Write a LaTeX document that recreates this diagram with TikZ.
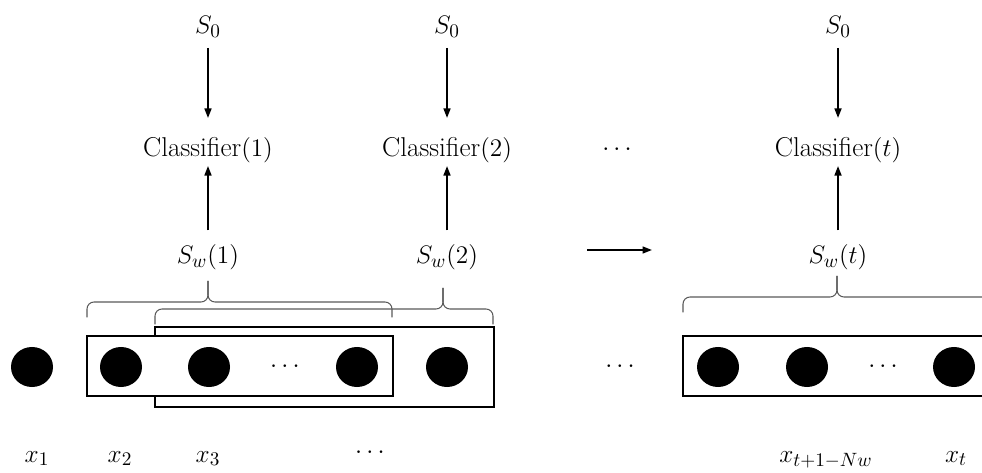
\documentclass[tikz,border=0pt]{standalone}
\usetikzlibrary{arrows.meta,shapes.geometric}
\begin{document}
\begin{tikzpicture}[
  lbl/.style={inner sep=0pt, font=\fontsize{15.5}{18}\selectfont},
  flow/.style={-{Triangle[length=1.9mm,width=1.4mm]}, line width=0.9pt},
  win/.style={draw, line width=0.7pt},
  dot/.style={ellipse, fill=black, minimum width=0.84cm, minimum height=0.80cm, inner sep=0pt},
  brc/.style={draw=black!65, line width=0.6pt, rounded corners=4pt}]
\clip (0,0) rectangle (19.64,9.44);

% classifier columns
\node[lbl] (s0a) at (4.16,8.90) {$S_0$};
\node[lbl] (s0b) at (8.94,8.90) {$S_0$};
\node[lbl] (s0t) at (16.76,8.90) {$S_0$};
\node[lbl] (clsa) at (4.16,6.44) {Classifier$(1)$};
\node[lbl] (clsb) at (8.94,6.44) {Classifier$(2)$};
\node[lbl] (clst) at (16.76,6.44) {Classifier$(t)$};
\node[lbl] (swa) at (4.16,4.30) {$S_w(1)$};
\node[lbl] (swb) at (8.94,4.30) {$S_w(2)$};
\node[lbl] (swt) at (16.76,4.30) {$S_w(t)$};
\node[lbl] (gap1) at (12.34,6.44) {$\cdots$};

\foreach \c in {a,b,t} {
  \draw[flow, shorten <=0.20cm, shorten >=0.38cm] (s0\c) -- (cls\c);
  \draw[flow, shorten <=0.27cm, shorten >=0.06cm] (sw\c) -- (cls\c);
}

% time step arrow
\coordinate (go1) at (11.74,4.44);
\coordinate (go2) at (13.04,4.44);
\draw[flow] (go1) -- (go2);

% windows
\draw[win] (3.10,1.30) rectangle (9.88,2.90);
\draw[win, fill=white] (1.74,1.52) rectangle (7.86,2.72);
\draw[win] (13.66,1.52) rectangle (20.20,2.72);

% braces
\foreach \xa/\xt/\xb/\yh in {1.74/4.16/7.84/3.40, 3.10/8.86/9.86/3.26, 13.66/16.74/20.20/3.50} {
  \draw[brc] (\xa,\yh-0.31) -- (\xa,\yh) -- (\xt,\yh) -- (\xt,\yh+0.42);
  \draw[brc] (\xb,\yh-0.31) -- (\xb,\yh) -- (\xt,\yh) -- (\xt,\yh+0.42);
}

% inputs
\foreach \n/\x in {1/0.64, 2/2.42, 3/4.18, 4/7.14, 5/8.94, 6/14.36, 7/16.14, 8/19.08}
  \node[dot] (d\n) at (\x,2.10) {};
\node[lbl] (gap2) at (5.70,2.10) {$\cdots$};
\node[lbl] (gap3) at (12.40,2.10) {$\cdots$};
\node[lbl] (gap4) at (17.66,2.10) {$\cdots$};

% labels
\node[lbl, anchor=base] (x1) at (0.74,0.20) {$x_1$};
\node[lbl, anchor=base] (x2) at (2.40,0.20) {$x_2$};
\node[lbl, anchor=base] (x3) at (4.16,0.20) {$x_3$};
\node[lbl, anchor=base] (gap5) at (7.40,0.28) {$\cdots$};
\node[lbl, anchor=base] (xw) at (16.52,0.20) {$x_{t+1-Nw}$};
\node[lbl, anchor=base] (xt) at (19.12,0.20) {$x_t$};
\end{tikzpicture}
\end{document}
